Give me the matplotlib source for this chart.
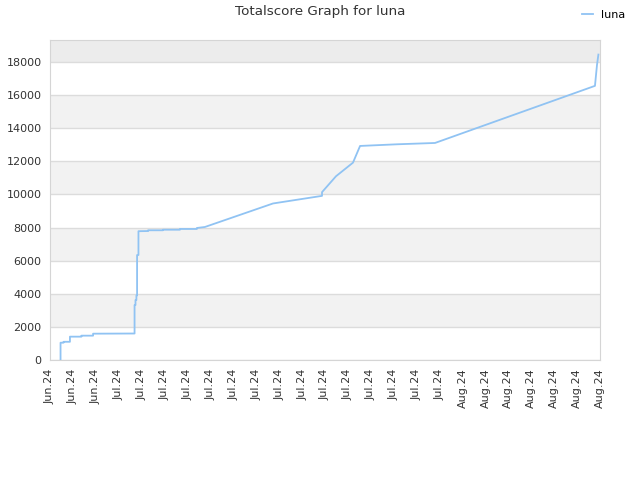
from matplotlib import pyplot as plt

# x in tick units (one unit per date tick), y = total score
xs = [0.46, 0.46, 0.59, 0.59, 0.87, 0.87, 1.37, 1.37, 1.88, 1.88,
      3.69, 3.69, 3.73, 3.73, 3.77, 3.77, 3.80, 3.80, 3.86, 3.86,
      4.28, 4.28, 4.93, 4.93, 5.67, 5.67, 6.41, 6.41, 6.76,
      9.73, 11.87, 11.87, 12.48, 13.22, 13.53, 15.14, 16.80,
      23.78, 23.87, 23.93]
scores = [0, 1045, 1045, 1100, 1100, 1410, 1410, 1470, 1470, 1590,
          1600, 3320, 3320, 3620, 3620, 3900, 3900, 6340, 6340, 7780,
          7790, 7836, 7836, 7870, 7870, 7915, 7915, 7975, 8035,
          9455, 9915, 10140, 11100, 11920, 12930, 13030, 13110,
          16560, 17840, 18450]

tick_labels = (["Jun.24"] * 3) + (["Jul.24"] * 15) + (["Aug.24"] * 7)
y_ticks = list(range(0, 18001, 2000))

fig = plt.figure(figsize=(6.4, 4.8), dpi=100)
ax = fig.add_axes([50 / 640, 120 / 480, 550 / 640, 320 / 480])

ymax = 19330
# alternating bands
for lo in range(0, 18000, 2000):
    if (lo // 2000) % 2 == 1:
        ax.axhspan(lo, lo + 2000, color="#f2f2f2", zorder=0, lw=0)
ax.axhspan(18000, ymax, color="#ececec", zorder=0, lw=0)
for y in y_ticks:
    ax.axhline(y, color="#dcdcdc", lw=1, zorder=1)

ax.plot(xs, scores, color="#90c3f3", lw=1.3, label="luna", zorder=3)

ax.set_xlim(0, 24)
ax.set_ylim(0, ymax)
ax.set_xticks(range(len(tick_labels)))
ax.set_xticklabels(tick_labels, rotation=90, fontsize=8, color="#333333")
ax.set_yticks(y_ticks)
ax.set_yticklabels([str(v) for v in y_ticks], fontsize=8, color="#333333")
ax.tick_params(length=0, pad=6)
for s in ax.spines.values():
    s.set_color("#d5d5d5")

fig.text(0.5, 1 - 12 / 480, "Totalscore Graph for luna", ha="center", va="center",
         fontsize=9.7, color="#333333")
fig.legend(loc="upper right", bbox_to_anchor=(0.992, 1.0), frameon=False,
           fontsize=8, handlelength=1.0, handletextpad=0.7)

plt.savefig("out.png")
